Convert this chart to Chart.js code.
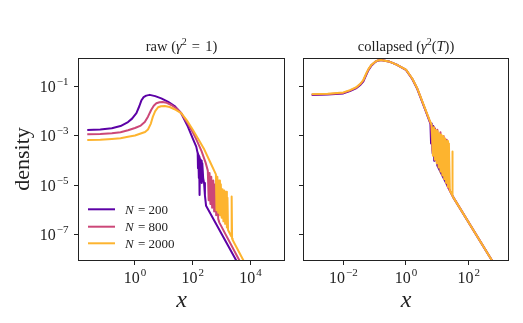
<!DOCTYPE html>
<html>
<head>
<meta charset="utf-8">
<script src="https://cdn.jsdelivr.net/npm/chart.js@4.4.1/dist/chart.umd.min.js"></script>
<style>
  body { margin: 0; background: #fff; }
  #quadro { position: relative; width: 523px; height: 323px; }
  #caixaRaw { position: absolute; left: 0; top: 0; }
  #caixaCol { position: absolute; left: 292px; top: 0; }
</style>
</head>
<body>
<div id="quadro">
  <div id="caixaRaw"><canvas id="graficoRaw" width="292" height="323"></canvas></div>
  <div id="caixaCol"><canvas id="graficoCol" width="231" height="323"></canvas></div>
</div>
<script>
// --- Dados (valores em log10) ---

const rotulosN = ['200', '800', '2000'];
const coresN = ['#5c01a6', '#cc4778', '#fdb42f'];

// Painel "raw"
const rawX200 = [-1.65, -1.2, -0.8, -0.5, -0.24, -0.1, 0.05, 0.15, 0.22, 0.3, 0.39, 0.51, 0.7, 0.91, 1.15, 1.37, 1.6, 1.83, 2.02, 2.12, 2.17, 2.18, 2.19, 2.21, 2.22, 2.235, 2.25, 2.27, 2.29, 2.31, 2.33, 2.36, 2.39, 2.42, 2.46, 3.49, 3.7];
const rawY200 = [-2.76, -2.74, -2.69, -2.6, -2.44, -2.3, -2.08, -1.8, -1.57, -1.43, -1.37, -1.34, -1.39, -1.48, -1.62, -1.79, -2.08, -2.62, -3.16, -3.43, -3.7, -4.3, -3.78, -4.7, -3.85, -5.38, -3.95, -4.5, -4.0, -4.9, -4.1, -4.7, -4.9, -5.4, -5.82, -8.0, -8.45];

const rawX800 = [-1.65, -1.2, -0.8, -0.5, -0.24, 0.0, 0.2, 0.34, 0.45, 0.56, 0.65, 0.74, 0.85, 0.95, 1.1, 1.26, 1.45, 1.6, 1.8, 2.0, 2.13, 2.3, 2.45, 2.52, 2.55, 2.58, 2.61, 2.64, 2.67, 2.71, 2.74, 2.78, 2.81, 2.85, 2.88, 2.92, 3.6, 3.9];
const rawY800 = [-2.93, -2.92, -2.89, -2.85, -2.77, -2.68, -2.58, -2.44, -2.22, -1.95, -1.78, -1.68, -1.64, -1.63, -1.66, -1.75, -1.9, -2.08, -2.45, -2.85, -3.16, -3.6, -4.1, -4.4, -5.6, -4.5, -5.75, -4.65, -5.9, -4.8, -6.05, -4.95, -6.2, -5.1, -6.35, -6.5, -8.0, -8.65];

const rawX2000 = [-1.65, -1.2, -0.8, -0.5, -0.24, 0.0, 0.2, 0.35, 0.45, 0.55, 0.62, 0.7, 0.8, 0.9, 1.03, 1.2, 1.37, 1.6, 1.8, 2.0, 2.21, 2.4, 2.6, 2.8, 2.82, 2.85, 2.88, 2.91, 2.94, 2.97, 3.0, 3.03, 3.06, 3.09, 3.12, 3.15, 3.18, 3.2, 3.22, 3.33, 3.345, 3.36, 3.38, 3.74, 4.0];
const rawY2000 = [-3.16, -3.15, -3.12, -3.09, -3.03, -2.98, -2.9, -2.84, -2.74, -2.5, -2.22, -2.0, -1.84, -1.8, -1.79, -1.83, -1.92, -2.08, -2.38, -2.75, -3.16, -3.55, -4.05, -4.55, -6.0, -4.65, -6.1, -4.8, -6.2, -4.95, -6.3, -5.15, -6.45, -5.2, -6.55, -5.25, -6.7, -5.5, -6.8, -7.05, -5.45, -7.15, -7.2, -8.0, -8.6];

// Painel "collapsed"
const colX200 = [-3.01, -2.5, -2.0, -1.79, -1.6, -1.45, -1.36, -1.28, -1.2, -1.1, -0.99, -0.9, -0.8, -0.55, -0.3, 0.0, 0.2, 0.35, 0.45, 0.61, 0.75, 0.78, 0.8, 0.82, 0.85, 0.87, 0.9, 0.92, 0.95, 0.98, 1.0, 1.51, 2.75, 3.0];
const colY200 = [-1.35, -1.33, -1.28, -1.19, -1.08, -0.93, -0.79, -0.56, -0.34, -0.15, -0.02, 0.04, 0.07, 0.01, -0.12, -0.33, -0.7, -1.07, -1.4, -1.93, -2.4, -2.5, -3.3, -2.5, -3.7, -2.6, -4.0, -2.7, -3.9, -3.1, -4.2, -5.48, -8.04, -8.56];

const colX800 = [-3.01, -2.5, -2.0, -1.79, -1.6, -1.45, -1.36, -1.28, -1.2, -1.1, -0.99, -0.9, -0.8, -0.55, -0.3, 0.0, 0.2, 0.35, 0.45, 0.61, 0.75, 0.8, 0.85, 0.9, 0.95, 1.0, 1.05, 1.1, 1.15, 1.2, 1.25, 1.3, 1.33, 1.51, 2.75, 3.0];
const colY800 = [-1.33, -1.31, -1.26, -1.17, -1.06, -0.9, -0.76, -0.53, -0.32, -0.13, -0.01, 0.05, 0.07, 0.01, -0.12, -0.33, -0.69, -1.06, -1.38, -1.92, -2.38, -2.55, -3.6, -2.65, -3.9, -2.75, -4.15, -2.85, -4.4, -3.0, -4.6, -3.15, -5.04, -5.48, -8.04, -8.56];

const colX2000 = [-3.01, -2.5, -2.0, -1.79, -1.6, -1.45, -1.36, -1.28, -1.2, -1.1, -0.99, -0.9, -0.8, -0.55, -0.3, 0.0, 0.2, 0.35, 0.45, 0.61, 0.75, 0.82, 0.86, 0.89, 0.92, 0.95, 0.98, 1.01, 1.04, 1.07, 1.1, 1.13, 1.16, 1.19, 1.22, 1.25, 1.28, 1.31, 1.34, 1.37, 1.4, 1.47, 1.48, 1.49, 1.51, 2.75, 3.0];
const colY2000 = [-1.31, -1.29, -1.24, -1.15, -1.04, -0.88, -0.73, -0.5, -0.3, -0.12, -0.01, 0.05, 0.07, 0.01, -0.12, -0.32, -0.68, -1.05, -1.37, -1.9, -2.35, -2.55, -3.8, -2.65, -3.96, -2.75, -4.1, -2.8, -4.27, -2.9, -4.44, -2.95, -4.6, -3.0, -4.75, -3.1, -4.9, -3.2, -5.06, -3.3, -5.2, -5.38, -3.63, -5.42, -5.48, -8.04, -8.56];

// Eixos
const rawXTicks = [1, 100, 10000];
const colXTicks = [0.01, 1, 100];
const densidadeTicks = [1e-7, 1e-5, 1e-3, 1e-1];
const rawXLimites = [0.0107, 1.55e5];
const colXLimites = [5.15e-4, 1942];
const densidadeLimites = [8.9e-9, 1.41];

// Títulos: [texto, itálico?, sobrescrito?]
const tituloRaw = [['raw (', false, false], ['\u03b3', true, false], ['2', false, true], [' = ', false, false], ['1)', false, false]];
const tituloCol = [['collapsed (', false, false], ['\u03b3', true, false], ['2', false, true], ['(', false, false], ['T', true, false], ['))', false, false]];

const SERIF = '"Liberation Serif", "DejaVu Serif", serif';

// --- Funções auxiliares ---

// Converte pares log10 em pontos {x, y}
function pontos(lx, ly) {
    return lx.map((v, i) => ({ x: Math.pow(10, v), y: Math.pow(10, ly[i]) }));
}

function montarDatasets(series) {
    return series.map((s, i) => ({
        data: pontos(s[0], s[1]),
        borderColor: coresN[i],
        borderWidth: 2,
        showLine: true,
        pointRadius: 0,
        borderJoinStyle: 'round',
        clip: 0,
        order: 2 - i // amarelo por cima
    }));
}

// Escreve um rótulo "10^e" com expoente menor
function escreverDecada(ctx, valor, x, y, align) {
    const e = Math.round(Math.log10(valor));
    const base = '10';
    const expo = String(e).replace('-', '\u2212');
    ctx.font = `16px ${SERIF}`;
    const wb = ctx.measureText(base).width;
    ctx.font = `11px ${SERIF}`;
    const we = ctx.measureText(expo).width;
    const total = wb + we + 1;
    const x0 = align === 'center' ? x - total / 2 : x - total;
    ctx.textAlign = 'left';
    ctx.textBaseline = 'alphabetic';
    ctx.font = `16px ${SERIF}`;
    ctx.fillText(base, x0, y);
    ctx.font = `11px ${SERIF}`;
    ctx.fillText(expo, x0 + wb + 1, y - 7);
}

// Escreve o título em partes (γ e T em itálico, expoente menor)
function escreverTitulo(ctx, partes, cx, y) {
    const fonte = (p) => `${p[1] ? 'italic ' : ''}${p[2] ? 10 : 14.5}px ${SERIF}`;
    let total = 0;
    partes.forEach(p => { ctx.font = fonte(p); total += ctx.measureText(p[0]).width + (p[0].includes('=') ? 3 : 0); });
    let x = cx - total / 2;
    ctx.textAlign = 'left';
    ctx.textBaseline = 'alphabetic';
    partes.forEach(p => {
        ctx.font = fonte(p);
        const extra = p[0].includes('=') ? 1.5 : 0;
        ctx.fillText(p[0], x + extra, p[2] ? y - 6 : y);
        x += ctx.measureText(p[0]).width + extra * 2;
    });
}

// Plugin: moldura, rótulos, títulos e legenda
const textosPlugin = {
    id: 'textos',
    afterDraw(chart, args, opts) {
        const ctx = chart.ctx;
        const area = chart.chartArea;
        const sx = chart.scales.x;
        const sy = chart.scales.y;
        const meio = (area.left + area.right) / 2;
        ctx.save();

        // moldura
        ctx.strokeStyle = '#222';
        ctx.lineWidth = 1;
        ctx.strokeRect(area.left + 0.5, area.top + 0.5, area.right - area.left - 1, area.bottom - area.top - 1);

        ctx.fillStyle = '#222';
        opts.xTicks.forEach(v => escreverDecada(ctx, v, sx.getPixelForValue(v), 283, 'center'));
        if (opts.yLabels) {
            densidadeTicks.forEach(v => escreverDecada(ctx, v, area.left - 9.5, sy.getPixelForValue(v) + 5.2, 'right'));
        }

        escreverTitulo(ctx, opts.titulo, meio, 51);

        // rótulo do eixo x
        ctx.font = `italic 24px ${SERIF}`;
        ctx.textAlign = 'center';
        ctx.fillText('x', meio, 307);

        if (opts.yLabels) {
            ctx.save();
            ctx.translate(23, 159);
            ctx.rotate(-Math.PI / 2);
            ctx.font = `22px ${SERIF}`;
            ctx.textAlign = 'center';
            ctx.textBaseline = 'middle';
            ctx.fillText('density', 0, 0);
            ctx.restore();
        }

        // legenda
        if (opts.legenda) {
            const linhasY = [209.3, 226.7, 243.3];
            rotulosN.forEach((n, i) => {
                ctx.strokeStyle = coresN[i];
                ctx.lineWidth = 2;
                ctx.beginPath();
                ctx.moveTo(88, linhasY[i]);
                ctx.lineTo(115, linhasY[i]);
                ctx.stroke();
                ctx.fillStyle = '#222';
                ctx.textAlign = 'left';
                ctx.textBaseline = 'alphabetic';
                ctx.font = `italic 13px ${SERIF}`;
                ctx.fillText('N', 125, linhasY[i] + 4.5);
                const wN = ctx.measureText('N').width;
                ctx.font = `13px ${SERIF}`;
                ctx.fillText(' = ' + n, 125 + wN + 1, linhasY[i] + 4.5);
            });
        }
        ctx.restore();
    }
};

function eixoLog(limites, ticks, fit) {
    return {
        type: 'logarithmic',
        min: limites[0],
        max: limites[1],
        afterBuildTicks: (scale) => { scale.ticks = ticks.map(v => ({ value: v })); },
        afterFit: fit,
        ticks: { display: false },
        border: { display: false },
        grid: { display: true, drawOnChartArea: false, drawTicks: true, tickLength: 4, color: '#222', lineWidth: 1 }
    };
}

function criarGrafico(idCanvas, series, xLimites, xTicks, larguraY, paddingDireita, pluginOpts) {
    const ctx = document.getElementById(idCanvas).getContext('2d');
    return new Chart(ctx, {
        type: 'scatter',
        data: { datasets: montarDatasets(series) },
        options: {
            responsive: false,
            animation: false,
            layout: { padding: { top: 58, right: paddingDireita, left: 0, bottom: 0 } },
            scales: {
                x: eixoLog(xLimites, xTicks, (s) => { s.height = 62; }),
                y: eixoLog(densidadeLimites, densidadeTicks, (s) => { s.width = larguraY; })
            },
            plugins: {
                legend: { display: false },
                tooltip: { enabled: false },
                textos: pluginOpts
            }
        },
        plugins: [textosPlugin]
    });
}

// --- Gráficos ---

criarGrafico('graficoRaw',
    [[rawX200, rawY200], [rawX800, rawY800], [rawX2000, rawY2000]],
    rawXLimites, rawXTicks, 78, 7,
    { titulo: tituloRaw, xTicks: rawXTicks, yLabels: true, legenda: true });

criarGrafico('graficoCol',
    [[colX200, colY200], [colX800, colY800], [colX2000, colY2000]],
    colXLimites, colXTicks, 11, 14,
    { titulo: tituloCol, xTicks: colXTicks, yLabels: false, legenda: false });
</script>
</body>
</html>
